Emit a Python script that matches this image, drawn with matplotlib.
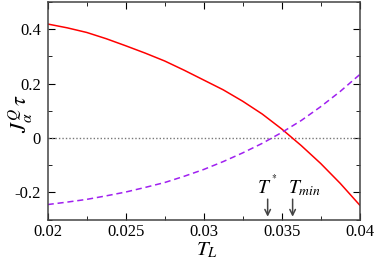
import matplotlib
matplotlib.use("Agg")
import matplotlib.pyplot as plt
from matplotlib.ticker import MultipleLocator

plt.rcParams['font.family'] = ['Liberation Serif', 'DejaVu Serif']
plt.rcParams['mathtext.fontset'] = 'stix'

# values
t_l = [0.02, 0.02125, 0.0225, 0.02375, 0.025, 0.02625, 0.0275, 0.02875, 0.03,
       0.03125, 0.0325, 0.03375, 0.035, 0.03625, 0.0375, 0.03875, 0.04]
j_red = [0.419, 0.405, 0.388, 0.365, 0.339, 0.312, 0.283, 0.249, 0.213,
         0.177, 0.135, 0.088, 0.033, -0.028, -0.094, -0.167, -0.247]
j_purple = [-0.245, -0.236, -0.226, -0.213, -0.199, -0.182, -0.164, -0.141, -0.116,
            -0.087, -0.055, -0.020, 0.020, 0.064, 0.115, 0.171, 0.233]

t_star = 0.0341
t_min = 0.0357
arrow_labels = [r'$T^{^*}$', r'$T_{min}$']
xtick_labels = ['0.02', '0.025', '0.03', '0.035', '0.04']
ytick_labels = ['-0.2', '0', '0.2', '0.4']

fig = plt.figure(figsize=(3.74, 2.61), dpi=100)
ax = fig.add_axes([47.7 / 374, 1 - 219.5 / 261, 312 / 374, 217.5 / 261])

ax.axhline(0, color='#777777', lw=1, ls=(0, (1, 1.5)))
ax.plot(t_l, j_red, color='#ff0000', lw=1.1)
ax.plot(t_l, j_purple, color='#a020f0', lw=1.1, ls=(0, (4, 2.5)))

for x in [t_star, t_min]:
    ax.annotate('', xy=(x, -0.30), xytext=(x, -0.215),
                arrowprops=dict(arrowstyle='->', color='#444444', lw=1.1))
ax.text(t_star, -0.205, arrow_labels[0], ha='center', va='baseline', fontsize=14)
ax.text(t_min - 0.00028, -0.205, arrow_labels[1], ha='left', va='baseline', fontsize=14)

ax.set_xlim(0.02, 0.04)
ax.set_ylim(-0.3, 0.5)
ax.set_xticks([0.02, 0.025, 0.03, 0.035, 0.04])
ax.set_xticklabels(xtick_labels)
ax.set_yticks([-0.2, 0, 0.2, 0.4])
ax.set_yticklabels(ytick_labels)
ax.xaxis.set_minor_locator(MultipleLocator(0.0025))
ax.yaxis.set_minor_locator(MultipleLocator(0.1))
ax.tick_params(which='both', direction='in', top=True, right=True, labelsize=12)
ax.tick_params(axis='x', pad=3)
ax.tick_params(axis='y', pad=5)
ax.tick_params(which='major', length=5)
ax.tick_params(which='minor', length=3)
for s in ax.spines.values():
    s.set_color('#444444')
    s.set_linewidth(1.1)

# axis titles placed by hand, like the reference
fig.text(207 / 374, 1 - 255 / 261, r'$T_L$', fontsize=15, ha='center', va='baseline')
fig.text(21 / 374, 1 - 114 / 261, r'$J^{Q}_{\alpha}\,\tau$', fontsize=16,
         rotation=90, ha='center', va='center')

fig.savefig('out.png', dpi=100)
